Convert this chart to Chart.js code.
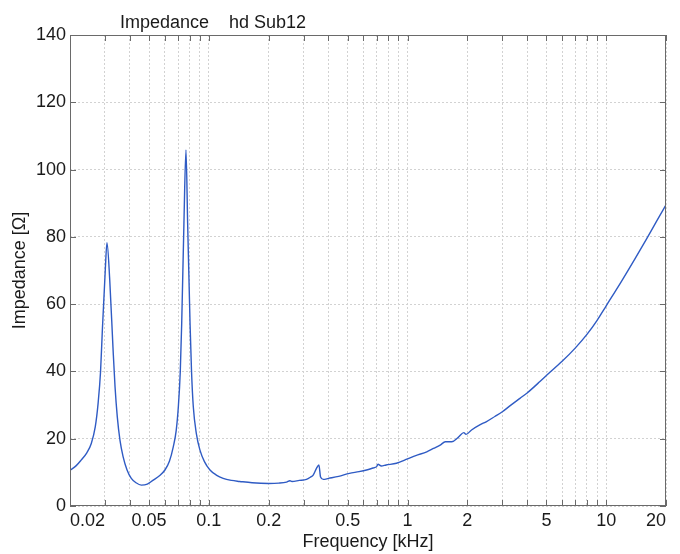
<!DOCTYPE html>
<html>
  <head>
    <script src="https://cdn.jsdelivr.net/npm/chart.js@4.4.0/dist/chart.umd.min.js"></script>
    <style>
      body {
        margin: 0;
        background: #ffffff;
      }
      /* chart fills the whole window */
      .chart-container {
        width: 680px;
        height: 554px;
      }
    </style>
  </head>
  <body>
    <div class="chart-container">
      <canvas id="myChart"></canvas>
    </div>
    <script>
      // frequency in kHz
      var freq = [
        0.02, 0.0215, 0.0228, 0.0243, 0.0256, 0.0268, 0.0277, 0.0285, 0.0291, 0.0301,
        0.0307, 0.0317, 0.0329, 0.0337, 0.0346, 0.0357, 0.037, 0.0387, 0.0407, 0.043,
        0.0457, 0.049, 0.0525, 0.0562, 0.0601, 0.0633, 0.0662, 0.0685, 0.0702, 0.0718,
        0.073, 0.0749, 0.0767, 0.0782, 0.0804, 0.0818, 0.0835, 0.0865, 0.0902, 0.095,
        0.1013, 0.109, 0.118, 0.13, 0.143, 0.165, 0.2, 0.225, 0.246, 0.256,
        0.262, 0.285, 0.31, 0.325, 0.335, 0.348, 0.358, 0.365, 0.377, 0.4,
        0.45, 0.51, 0.57, 0.622, 0.67, 0.699, 0.71, 0.738, 0.78, 0.88,
        1.0, 1.1, 1.25, 1.35, 1.46, 1.55, 1.67, 1.8, 1.92, 1.97,
        2.1, 2.31, 2.5, 2.75, 3.0, 3.3, 3.68, 4.0, 4.64, 5.0,
        6.0, 7.0, 8.0, 9.0, 10.0, 12.0, 14.0, 16.0, 18.0, 20.0
      ];
      // impedance in ohm
      var impedance = [
        10.6, 12.0, 13.7, 15.8, 18.6, 23.5, 30.5, 40.0, 52.3, 70.1,
        78.3, 67.2, 47.3, 35.5, 26.5, 19.5, 14.7, 10.8, 8.2, 6.9,
        6.2, 6.5, 7.7, 8.9, 10.7, 13.3, 17.6, 22.5, 29.5, 40.0,
        54.3, 84.0, 105.8, 84.0, 54.3, 40.0, 29.5, 21.5, 16.6, 13.2,
        10.7, 9.2, 8.2, 7.6, 7.3, 6.9, 6.7, 6.8, 7.1, 7.5,
        7.3, 7.6, 7.9, 8.6, 9.2, 11.2, 12.2, 8.6, 7.9, 8.2,
        8.8, 9.7, 10.2, 10.7, 11.3, 11.7, 12.4, 11.9, 12.2, 12.7,
        14.0, 15.0, 16.1, 17.1, 18.1, 19.1, 19.1, 20.4, 21.8, 21.3,
        22.6, 24.1, 25.1, 26.6, 28.0, 29.9, 32.0, 33.6, 37.0, 38.8,
        43.0, 47.0, 51.0, 55.2, 59.5, 67.0, 73.6, 79.5, 84.8, 89.5
      ];

      // tick marks and grid lines on the x axis
      var xTickValues = [
        0.02, 0.03, 0.04, 0.05, 0.06, 0.07, 0.08, 0.09,
        0.1, 0.2, 0.3, 0.4, 0.5, 0.6, 0.7, 0.8, 0.9,
        1, 2, 3, 4, 5, 6, 7, 8, 9, 10, 20
      ];
      // only these get a label
      var xLabelValues = [0.02, 0.05, 0.1, 0.2, 0.5, 1, 2, 5, 10, 20];
      var xLabelTexts = ["0.02", "0.05", "0.1", "0.2", "0.5", "1", "2", "5", "10", "20"];
      var yTickValues = [0, 20, 40, 60, 80, 100, 120, 140];

      var points = freq.map(function (f, i) {
        return { x: f, y: impedance[i] };
      });

      var fontFamily = "'Liberation Sans', Arial, Helvetica, sans-serif";
      var textColor = "#1a1a1a";
      var boxColor = "#6a6a6a";

      // box round the plot and short inward tick marks, like matlab
      var boxPlugin = {
        id: "boxPlugin",
        afterDatasetsDraw: function (chart) {
          var ctx = chart.ctx;
          var a = chart.chartArea;
          var xs = chart.scales.x;
          var ys = chart.scales.y;
          ctx.save();
          ctx.strokeStyle = boxColor;
          ctx.lineWidth = 1;
          ctx.strokeRect(a.left + 0.5, a.top + 0.5, a.right - a.left - 1, a.bottom - a.top - 1);
          ctx.beginPath();
          xTickValues.forEach(function (v) {
            var px = Math.round(xs.getPixelForValue(v)) + 0.5;
            ctx.moveTo(px, a.bottom);
            ctx.lineTo(px, a.bottom - 6);
            ctx.moveTo(px, a.top);
            ctx.lineTo(px, a.top + 6);
          });
          yTickValues.forEach(function (v) {
            var py = Math.round(ys.getPixelForValue(v)) + 0.5;
            ctx.moveTo(a.left, py);
            ctx.lineTo(a.left + 6, py);
            ctx.moveTo(a.right, py);
            ctx.lineTo(a.right - 6, py);
          });
          ctx.stroke();
          ctx.restore();
        },
      };

      // title sits left of centre in the original
      var titlePlugin = {
        id: "titlePlugin",
        afterDraw: function (chart) {
          var ctx = chart.ctx;
          ctx.save();
          ctx.fillStyle = textColor;
          ctx.font = "18px " + fontFamily;
          ctx.textAlign = "left";
          ctx.textBaseline = "alphabetic";
          ctx.fillText("Impedance    hd Sub12", 120, 28);
          ctx.restore();
        },
      };

      var ctx = document.getElementById("myChart").getContext("2d");

      var chart = new Chart(ctx, {
        type: "line",
        data: {
          datasets: [
            {
              label: "Impedance",
              data: points,
              borderColor: "#2f5bc4",
              backgroundColor: "transparent",
              borderWidth: 1.4,
              pointRadius: 0,
              cubicInterpolationMode: "monotone",
              fill: false,
            },
          ],
        },
        options: {
          responsive: true,
          maintainAspectRatio: false,
          animation: false,
          layout: {
            padding: { left: 0, right: 14, top: 35, bottom: 0 },
          },
          plugins: {
            legend: { display: false },
            title: { display: false },
            tooltip: { enabled: false },
          },
          scales: {
            x: {
              type: "logarithmic",
              min: 0.02,
              max: 20,
              afterBuildTicks: function (scale) {
                scale.ticks = xTickValues.map(function (v) {
                  return { value: v };
                });
              },
              afterFit: function (scale) {
                scale.height = 48;
              },
              ticks: {
                autoSkip: false,
                maxRotation: 0,
                align: "inner",
                padding: 4,
                color: textColor,
                font: { family: fontFamily, size: 18 },
                callback: function (value) {
                  for (var i = 0; i < xLabelValues.length; i++) {
                    if (Math.abs(value - xLabelValues[i]) < xLabelValues[i] * 1e-6) {
                      return xLabelTexts[i];
                    }
                  }
                  return "";
                },
              },
              grid: {
                color: "#d2d2d2",
                lineWidth: 1,
                drawTicks: false,
              },
              border: { display: false, dash: [2, 2] },
              title: {
                display: true,
                text: "Frequency [kHz]",
                color: textColor,
                font: { family: fontFamily, size: 18 },
                padding: { top: 0, bottom: 1 },
              },
            },
            y: {
              min: 0,
              max: 140,
              afterBuildTicks: function (scale) {
                scale.ticks = yTickValues.map(function (v) {
                  return { value: v };
                });
              },
              afterFit: function (scale) {
                scale.width = 70;
              },
              ticks: {
                padding: 4,
                color: textColor,
                font: { family: fontFamily, size: 18 },
              },
              grid: {
                color: "#d2d2d2",
                lineWidth: 1,
                drawTicks: false,
              },
              border: { display: false, dash: [2, 2] },
              title: {
                display: true,
                text: "Impedance [Ω]",
                color: textColor,
                font: { family: fontFamily, size: 18 },
                padding: { top: 9, bottom: 0 },
              },
            },
          },
        },
        plugins: [boxPlugin, titlePlugin],
      });
    </script>
  </body>
</html>
